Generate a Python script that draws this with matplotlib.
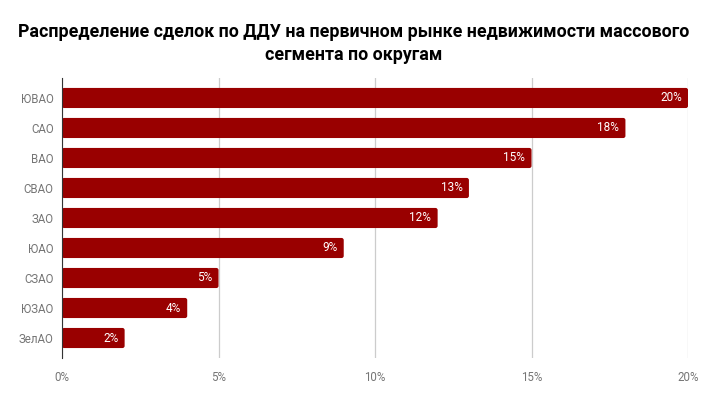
import matplotlib.pyplot as plt
from matplotlib.patches import FancyBboxPatch

plt.rcParams['font.family'] = ['Roboto', 'DejaVu Sans']

# данные
districts = ['ЮВАО', 'САО', 'ВАО', 'СВАО', 'ЗАО', 'ЮАО', 'СЗАО', 'ЮЗАО', 'ЗелАО']
shares = [20, 18, 15, 13, 12, 9, 5, 4, 2]
xticks = [0, 5, 10, 15, 20]
xtick_labels = ['0%', '5%', '10%', '15%', '20%']

bar_color = '#990000'
label_gray = '#757575'

fig = plt.figure(figsize=(7.08, 3.99), dpi=100)
ax = fig.add_axes([0.0876, 0.104, 0.8842, 0.6993])

y = list(range(len(districts)))
bars = ax.barh(y, shares, height=0.67, color=bar_color, zorder=3)

# скругленные углы как в оригинале
for b in bars:
    b.set_visible(False)
    rb = FancyBboxPatch((b.get_x(), b.get_y()), b.get_width(), b.get_height(),
                        boxstyle='round,pad=0,rounding_size=0.07',
                        mutation_aspect=1.04, facecolor=bar_color,
                        edgecolor='none', zorder=3)
    ax.add_patch(rb)

# подписи значений внутри столбцов
for yi, v in zip(y, shares):
    ax.text(v - 0.2, yi, f'{v}%', ha='right', va='center',
            color='white', fontsize=8.5, zorder=4)

ax.set_ylim(len(districts) - 0.35, -0.65)
ax.set_xlim(0, 20)
ax.set_yticks(y)
ax.set_yticklabels(districts, color=label_gray, fontsize=8.3)
ax.set_xticks(xticks)
ax.set_xticklabels(xtick_labels, color=label_gray, fontsize=8.3)
ax.tick_params(length=0)
ax.tick_params(axis='y', pad=6)
ax.tick_params(axis='x', pad=10)

ax.grid(axis='x', color='#cccccc', linewidth=0.9, zorder=0)
for side in ['top', 'right', 'bottom']:
    ax.spines[side].set_visible(False)
ax.spines['left'].set_color('#333333')
ax.spines['left'].set_zorder(5)

fig.text(0.5, 0.891, 'Распределение сделок по ДДУ на первичном рынке недвижимости массового\nсегмента по округам',
         ha='center', va='center', fontsize=12.8, fontweight='bold', color='#000000',
         linespacing=1.3)

fig.savefig('out.png', dpi=100)
